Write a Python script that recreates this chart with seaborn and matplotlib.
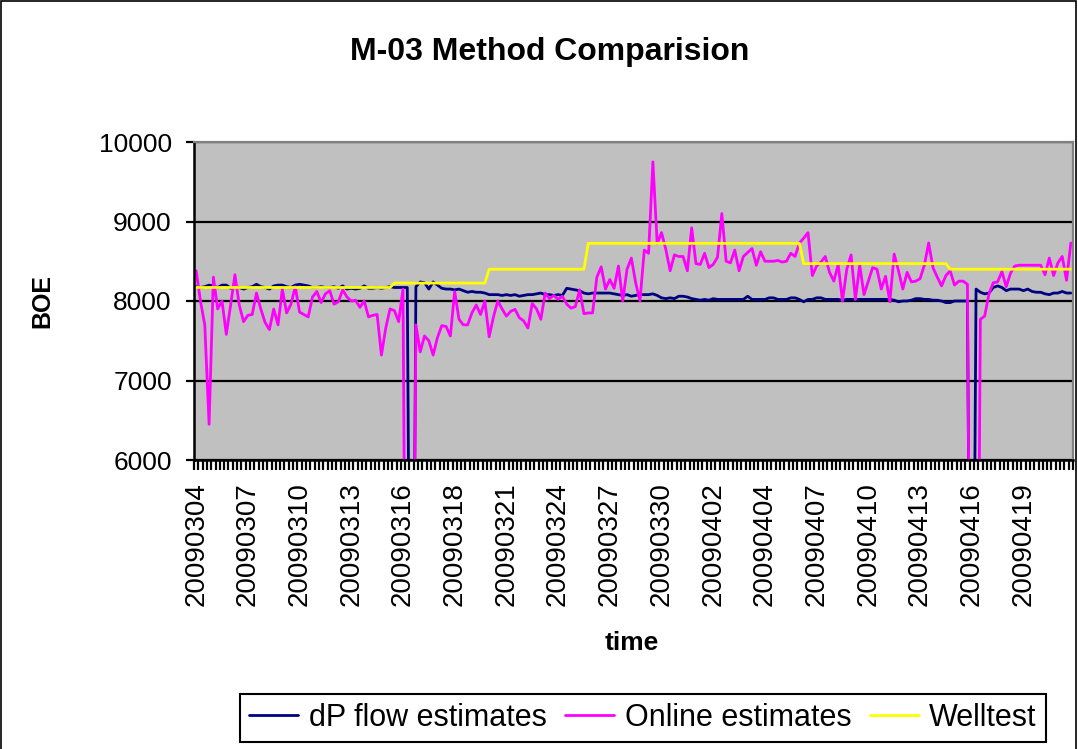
"""M-03 method comparison: dP flow vs online estimates vs welltest."""
import matplotlib.pyplot as plt
import numpy as np
import pandas as pd
import seaborn as sns

sns.set_theme(style="white", rc={
    "text.color": "black", "axes.labelcolor": "black",
    "xtick.color": "black", "ytick.color": "black",
})
plt.rcParams["font.family"] = ["Liberation Sans", "DejaVu Sans"]

# x tick labels, one every 12 samples
date_labels = [
    "20090304", "20090307", "20090310", "20090313", "20090316", "20090318",
    "20090321", "20090324", "20090327", "20090330", "20090402", "20090404",
    "20090407", "20090410", "20090413", "20090416", "20090419",
]
label_step = 12

# dP flow estimates (0 = outage, off the bottom of the axis)
dp_flow = [
    8180, 8170, 8180, 8200, 8190, 8170, 8200, 8200, 8160, 8180,
    8170, 8150, 8170, 8180, 8210, 8180, 8170, 8150, 8190, 8200,
    8200, 8180, 8170, 8200, 8210, 8200, 8190, 8170, 8170, 8180,
    8170, 8170, 8180, 8160, 8190, 8150, 8160, 8150, 8160, 8190,
    8160, 8160, 8170, 8160, 8170, 8180, 8170, 8170, 8170, 8170,
    0, 8180, 8240, 8230, 8150, 8240, 8200, 8160, 8150, 8150,
    8140, 8150, 8130, 8110, 8120, 8110, 8110, 8100, 8080, 8080,
    8080, 8070, 8080, 8070, 8080, 8060, 8070, 8080, 8080, 8090,
    8100, 8080, 8080, 8070, 8080, 8070, 8160, 8150, 8140, 8130,
    8100, 8090, 8100, 8100, 8100, 8100, 8100, 8090, 8080, 8070,
    8080, 8060, 8070, 8080, 8080, 8080, 8090, 8070, 8040, 8030,
    8040, 8030, 8060, 8060, 8050, 8030, 8020, 8010, 8020, 8010,
    8030, 8020, 8020, 8020, 8020, 8020, 8020, 8020, 8060, 8020,
    8020, 8020, 8020, 8040, 8040, 8020, 8020, 8020, 8040, 8040,
    8020, 7990, 8020, 8020, 8040, 8040, 8020, 8020, 8020, 8020,
    8010, 8020, 8020, 8020, 8020, 8020, 8020, 8020, 8020, 8020,
    8020, 8020, 8010, 7990, 8000, 8000, 8010, 8030, 8030, 8020,
    8020, 8010, 8010, 8000, 7980, 7980, 8000, 8000, 8000, 8000,
    0, 8150, 8110, 8090, 8100, 8170, 8190, 8170, 8130, 8150,
    8150, 8150, 8130, 8150, 8120, 8110, 8110, 8090, 8080, 8100,
    8100, 8120, 8100, 8100,
]

# online estimates
online = [
    8380, 8000, 7700, 6450, 8300, 7900, 8000, 7580, 7950, 8330,
    7950, 7740, 7820, 7830, 8100, 7900, 7730, 7640, 7900, 7700,
    8150, 7850, 7960, 8180, 7860, 7830, 7800, 8050, 8120, 7980,
    8090, 8130, 7960, 7990, 8140, 8050, 8000, 8010, 7920, 8000,
    7800, 7820, 7830, 7320, 7660, 7900, 7880, 7740, 8150, 0,
    0, 7700, 7360, 7560, 7500, 7320, 7540, 7690, 7680, 7560,
    8120, 7770, 7700, 7700, 7850, 7950, 7830, 8000, 7550, 7800,
    8000, 7900, 7810, 7870, 7895, 7790, 7750, 7660, 7970, 7900,
    7770, 8100, 8030, 8070, 8020, 8060, 7960, 7910, 7930, 8140,
    7840, 7850, 7850, 8300, 8430, 8150, 8270, 8160, 8440, 8000,
    8400, 8540, 8230, 8000, 8640, 8600, 9750, 8720, 8860, 8650,
    8380, 8580, 8560, 8560, 8380, 8920, 8470, 8460, 8600, 8420,
    8460, 8550, 9100, 8500, 8480, 8640, 8380, 8560, 8610, 8660,
    8450, 8620, 8500, 8500, 8500, 8510, 8490, 8500, 8600, 8560,
    8730, 8790, 8860, 8320, 8440, 8490, 8560, 8360, 8250, 8460,
    8000, 8400, 8580, 8020, 8450, 8080, 8250, 8420, 8400, 8150,
    8310, 7990, 8590, 8380, 8150, 8360, 8240, 8250, 8280, 8450,
    8730, 8420, 8300, 8190, 8320, 8380, 8200, 8250, 8250, 8210,
    0, 0, 7770, 7810, 8090, 8230, 8240, 8370, 8180, 8350,
    8440, 8450, 8450, 8450, 8450, 8450, 8450, 8330, 8540, 8320,
    8480, 8560, 8260, 8730,
]

# welltest reference rate
welltest = [
    8170, 8170, 8170, 8170, 8170, 8170, 8170, 8170, 8170, 8170,
    8170, 8170, 8170, 8170, 8170, 8170, 8170, 8170, 8170, 8170,
    8170, 8170, 8170, 8170, 8170, 8170, 8170, 8170, 8170, 8170,
    8170, 8170, 8170, 8170, 8170, 8170, 8170, 8170, 8170, 8170,
    8170, 8170, 8170, 8170, 8170, 8170, 8225, 8225, 8225, 8225,
    8225, 8225, 8225, 8225, 8225, 8225, 8225, 8225, 8225, 8225,
    8225, 8225, 8225, 8225, 8225, 8225, 8225, 8225, 8400, 8400,
    8400, 8400, 8400, 8400, 8400, 8400, 8400, 8400, 8400, 8400,
    8400, 8400, 8400, 8400, 8400, 8400, 8400, 8400, 8400, 8400,
    8400, 8725, 8725, 8725, 8725, 8725, 8725, 8725, 8725, 8725,
    8725, 8725, 8725, 8725, 8725, 8725, 8725, 8725, 8725, 8725,
    8725, 8725, 8725, 8725, 8725, 8725, 8725, 8725, 8725, 8725,
    8725, 8725, 8725, 8725, 8725, 8725, 8725, 8725, 8725, 8725,
    8725, 8725, 8725, 8725, 8725, 8725, 8725, 8725, 8725, 8725,
    8725, 8470, 8470, 8470, 8470, 8470, 8470, 8470, 8470, 8470,
    8470, 8470, 8470, 8470, 8470, 8470, 8470, 8470, 8470, 8470,
    8470, 8470, 8470, 8470, 8470, 8470, 8470, 8470, 8470, 8470,
    8470, 8470, 8470, 8470, 8470, 8400, 8400, 8400, 8400, 8400,
    8400, 8400, 8400, 8400, 8400, 8400, 8400, 8400, 8400, 8400,
    8400, 8400, 8400, 8400, 8400, 8400, 8400, 8400, 8400, 8400,
    8400, 8400, 8400, 8400,
]

series_names = ["dP flow estimates", "Online estimates", "Welltest"]
series_colors = {"dP flow estimates": "#000080", "Online estimates": "#FF00FF", "Welltest": "#FFFF00"}

n = len(online)
df = pd.concat(
    [
        pd.DataFrame({"sample": range(n), "BOE": vals, "series": name})
        for name, vals in zip(series_names, [dp_flow, online, welltest])
    ],
    ignore_index=True,
)

W, H = 1078, 749
fig = plt.figure(figsize=(W / 100, H / 100), dpi=100)
ax = fig.add_axes([194 / W, 1 - 460 / H, (1073 - 194) / W, (460 - 142) / H])
ax.set_facecolor("#C0C0C0")

sns.lineplot(
    data=df, x="sample", y="BOE", hue="series", hue_order=series_names,
    palette=series_colors, estimator=None, sort=False, linewidth=2.0, ax=ax,
)
handles, labels = ax.get_legend_handles_labels()
ax.get_legend().remove()

ax.set_xlim(-0.5, n - 0.5)
ax.set_ylim(6000, 10000)
ax.set_yticks([6000, 7000, 8000, 9000, 10000])
ax.set_xticks(range(0, n, label_step))
ax.set_xticklabels(date_labels, rotation=90)
ax.set_xticks(np.arange(-0.5, n, 1), minor=True)
ax.tick_params(axis="x", which="major", length=0, pad=16, labelsize=20)
ax.tick_params(axis="x", which="minor", bottom=True, length=7, width=1.6, color="black")
ax.tick_params(axis="y", left=True, length=6, width=1.6, pad=10, labelsize=19)
ax.set_xlabel("")
ax.set_ylabel("")

ax.grid(axis="y", color="black", linewidth=1.6)
ax.set_axisbelow(True)
for side in ["left", "bottom"]:
    ax.spines[side].set_color("black")
    ax.spines[side].set_linewidth(1.8)
for side in ["top", "right"]:
    ax.spines[side].set_color("#808080")
    ax.spines[side].set_linewidth(1.6)

fig.text(550 / W, 1 - 52 / H, "M-03 Method Comparision", ha="center", va="center",
         fontsize=23, fontweight="bold")
fig.text(42 / W, 1 - 301 / H, "BOE", ha="center", va="center", rotation=90,
         fontsize=18, fontweight="bold")
fig.text(632 / W, 1 - 643 / H, "time", ha="center", va="center", fontsize=19, fontweight="bold")

leg = fig.legend(
    handles, labels, loc="upper center", bbox_to_anchor=(643 / W, 1 - 694 / H), ncol=3,
    frameon=True, fancybox=False, framealpha=1, edgecolor="black", fontsize=22,
    handlelength=1.6, handletextpad=0.35, columnspacing=0.6, borderpad=0.3, borderaxespad=0,
)
leg.get_frame().set_linewidth(1.5)

fig.patches.append(plt.Rectangle((0.001, -0.05), 0.997, 1.048, transform=fig.transFigure,
                                 fill=False, edgecolor="black", linewidth=1.2))

fig.savefig("out.png", dpi=100)
plt.close()
